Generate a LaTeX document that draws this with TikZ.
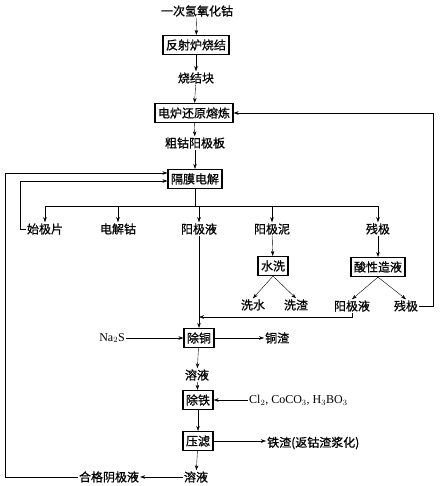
\documentclass[tikz,border=0pt]{standalone}
\usepackage{fontspec}
\newfontfamily\cjk{Noto Sans CJK SC}[FakeBold=0.8]
\newfontfamily\chemfont{Liberation Serif}
\usetikzlibrary{arrows.meta,positioning}

\begin{document}
\begin{tikzpicture}[
    x=1pt, y=-1pt,
    every node/.style={font=\cjk\fontsize{12}{14}\selectfont, inner sep=1pt},
    proc/.style={draw, line width=1.2pt, inner xsep=3pt, inner ysep=2pt, minimum height=19pt},
    chem/.style={font=\chemfont\fontsize{12}{14}\selectfont},
    >={Stealth[length=5pt,width=3.5pt]}
]
\useasboundingbox (0,0) rectangle (440,486);

% Main line: roasting and smelting
\node (src)     at (197,11)  {一次氢氧化钴};
\node[proc] (sinter)  at (196,45)  {反射炉烧结};
\node (blk)     at (196,78)  {烧结块};
\node[proc] (furnace) at (194,113) {电炉还原熔炼};
\node (rough)   at (195,143) {粗钴阳极板};
\node[proc] (cell)    at (195,179) {隔膜电解};
\draw[->] (src) -- (sinter);
\draw[->] (sinter) -- (blk);
\draw[->] (blk) -- (furnace);
\draw[->] (furnace) -- (rough);
\draw[->] (rough) -- (cell);

% Products of the cell
\node (starter) at (45,229)  {始极片};
\node (cobalt)  at (118,229) {电解钴};
\node (anolyte) at (199,229) {阳极液};
\node (slime)   at (272,229) {阳极泥};
\node (scrap)   at (378,229) {残极};
\coordinate (bus) at (195,206);
\draw (cell.south) -- (bus);
\draw (starter |- bus) -- (scrap |- bus);
\foreach \n in {starter,cobalt,anolyte,slime,scrap}
    \draw[->] (\n |- bus) -- (\n.north);

% Slime washing and scrap leaching
\node[proc] (wash)  at (273,266) {水洗};
\node[proc] (acid)  at (378,267) {酸性造液};
\node (washw)  at (253,305) {洗水};
\node (washr)  at (296,305) {洗渣};
\node (anol2)  at (352,306) {阳极液};
\node (scrap2) at (406,306) {残极};
\draw[->] (slime) -- (wash);
\draw[->] (scrap) -- (acid);
\draw[->] (wash.south) -- (washw.north);
\draw[->] (wash.south) -- (washr.north);
\draw[->] (acid.south) -- (anol2.north);
\draw[->] (acid.south) -- (scrap2.north);

% Scrap back to the furnace
\coordinate (retR) at (433,306);
\draw[->] (scrap2.east) -- (retR) -- (retR |- furnace.east) -- (furnace.east);

% Purification of anolyte
\node[proc] (decu)  at (199,338) {除铜};
\node[chem] (na2s)  at (112,338) {Na$_2$S};
\node[anchor=west] (cuslag) at (264,338) {铜渣};
\node (sol1)  at (197,375) {溶液};
\node[proc] (defe)  at (198,400) {除铁};
\node[chem, anchor=west] (reag) at (248,400) {Cl$_2$, CoCO$_3$, H$_3$BO$_3$};
\node[proc] (press) at (198,441) {压滤};
\node[anchor=west] (feslag) at (266,443) {铁渣(返钴渣浆化)};
\node (sol2)  at (196,477) {溶液};
\node (qual)  at (109,477) {合格阴极液};
\coordinate (merge) at (199,317);
\draw[->] (anolyte.south) -- (decu.north);
\draw[->] (anol2.south) -- (anol2.south |- merge) -- (merge);
\draw[->] (na2s) -- (decu);
\draw[->] (decu) -- (cuslag);
\draw[->] (decu) -- (sol1);
\draw[->] (sol1) -- (defe);
\draw[->] (reag) -- (defe);
\draw[->] (defe) -- (press);
\draw[->] (press.east) -- (press.east -| feslag.west);
\draw[->] (press) -- (sol2);
\draw[->] (sol2) -- (qual);

% Returns to the cell
\coordinate (loopL) at (5,173);
\coordinate (loopS) at (20,181);
\draw[->] (qual.west) -- (qual.west -| loopL) -- (loopL) -- (loopL -| cell.west);
\draw[->] (starter.west) -- (starter.west -| loopS) -- (loopS) -- (loopS -| cell.west);
\end{tikzpicture}
\end{document}
